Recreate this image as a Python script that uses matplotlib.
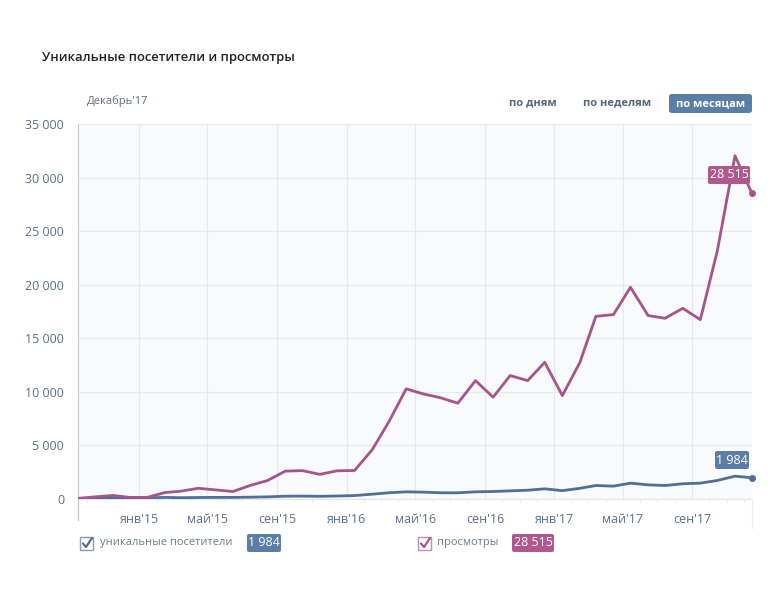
import matplotlib
matplotlib.use("Agg")
import matplotlib.pyplot as plt
import matplotlib.dates as mdates
from matplotlib.patches import FancyBboxPatch, Rectangle
from matplotlib.lines import Line2D
import datetime as dt

plt.rcParams['font.family'] = ['Open Sans', 'DejaVu Sans']

# ---- data (monthly, Sep 2014 .. Dec 2017) ----
start_year, start_month = 2014, 9
views = [60, 200, 330, 150, 150, 600, 730, 1000, 850, 700,
         1260, 1730, 2600, 2650, 2300, 2630, 2660, 4590, 7160, 10280,
         9810, 9440, 8940, 11050, 9500, 11520, 11050, 12760, 9650, 12760,
         17050, 17210, 19760, 17120, 16870, 17800, 16740, 23180, 32040, 28515]
visitors = [30, 60, 80, 90, 110, 150, 120, 140, 150, 150,
            170, 200, 260, 270, 250, 280, 320, 450, 580, 670,
            640, 580, 580, 670, 700, 760, 820, 950, 780, 1000,
            1260, 1200, 1480, 1320, 1260, 1420, 1480, 1730, 2130, 1984]
tick_months = ["янв", "май", "сен"]
y_ticks = [0, 5000, 10000, 15000, 20000, 25000, 30000, 35000]

title = "Уникальные посетители и просмотры"
period = "Декабрь'17"
buttons = ["по дням", "по неделям", "по месяцам"]
legend_names = ["уникальные посетители", "просмотры"]

dates = []
y, m = start_year, start_month
for _ in views:
    dates.append(dt.date(y, m, 15))
    m += 1
    if m > 12:
        m = 1
        y += 1

C_VIEWS = "#a5558b"
C_VIEWS_BOX = "#b0588e"
C_VIS = "#4f6f96"
C_VIS_BOX = "#5b7ea6"
C_TXT = "#5d6f84"
C_GRID = "#e6e8ec"

W, H = 775, 599
fig = plt.figure(figsize=(W / 100, H / 100), dpi=100)

def fx(px):
    return px / W

def fy(py):
    return 1 - py / H

ax = fig.add_axes([fx(78), fy(499), fx(752) - fx(78), fy(124) - fy(499)])
ax.set_facecolor("#f9fafb")

ax.plot(dates, visitors, color=C_VIS, lw=2, solid_joinstyle="round", zorder=3)
ax.plot(dates, views, color=C_VIEWS, lw=2, solid_joinstyle="round", zorder=4)
ax.plot([dates[-1]], [visitors[-1]], "o", color=C_VIS, ms=4, zorder=5, clip_on=False)
ax.plot([dates[-1]], [views[-1]], "o", color=C_VIEWS, ms=4, zorder=5, clip_on=False)

ax.set_xlim(dates[0], dates[-1])
ax.set_ylim(0, 35000)

# ticks
ax.set_yticks(y_ticks)
ax.set_yticklabels([f"{v:,}".replace(",", " ") for v in y_ticks])
xt, xl = [], []
for yr in (2015, 2016, 2017):
    for mi, name in zip((1, 5, 9), tick_months):
        xt.append(dt.date(yr, mi, 1))
        xl.append(f"{name}'{str(yr)[2:]}")
ax.set_xticks([mdates.date2num(d) for d in xt])
ax.set_xticklabels(xl)
ax.xaxis.set_minor_locator(mdates.MonthLocator())
ax.tick_params(axis="x", which="major", length=0, pad=10, labelsize=9, labelcolor=C_TXT)
ax.tick_params(axis="x", which="minor", length=2.5, color="#e0e2e6", direction="out")
ax.tick_params(axis="y", which="major", length=0, pad=10, labelsize=9, labelcolor=C_TXT)

ax.grid(True, which="major", color=C_GRID, lw=0.9)
ax.set_axisbelow(True)
for s in ("top", "right"):
    ax.spines[s].set_visible(False)
ax.spines["bottom"].set_color("#e2e4e8")
ax.spines["left"].set_color("#c3c7cc")

# extensions below the plot
fig.add_artist(Line2D([fx(78), fx(78)], [fy(499), fy(520)], color="#c3c7cc", lw=0.9))
fig.add_artist(Line2D([fx(752), fx(752)], [fy(499), fy(528)], color="#eceef1", lw=0.9))

# end value labels
def badge(cx, cy, text, color, w, h=18, fs=9):
    fig.add_artist(FancyBboxPatch((fx(cx - w / 2), fy(cy + h / 2)), fx(w), h / H,
                                  boxstyle="round,pad=0,rounding_size=0.003",
                                  fc=color, ec="none"))
    fig.text(fx(cx), fy(cy), text, color="white", fontsize=fs, ha="center", va="center")

badge(729, 175, "28 515", C_VIEWS_BOX, 42)
badge(732, 460, "1 984", C_VIS_BOX, 34)

# title and header
fig.text(fx(42), fy(57), title, fontsize=9.4, fontweight="semibold", color="#222222",
         ha="left", va="center")
fig.text(fx(87), fy(101), period, fontsize=8, color=C_TXT, ha="left", va="center")

fig.text(fx(533), fy(103), buttons[0], fontsize=8, fontweight="bold", color="#55677d",
         ha="center", va="center")
fig.text(fx(617), fy(103), buttons[1], fontsize=8, fontweight="bold", color="#55677d",
         ha="center", va="center")
fig.add_artist(FancyBboxPatch((fx(669), fy(113)), fx(83), 19 / H,
                              boxstyle="round,pad=0,rounding_size=0.004",
                              fc=C_VIS_BOX, ec="none"))
fig.text(fx(710.5), fy(103.5), buttons[2], fontsize=8, fontweight="bold", color="white",
         ha="center", va="center")

# legend
def checkbox(x0, y0, border, check):
    fig.add_artist(Rectangle((fx(x0), fy(y0 + 13)), fx(13), 13 / H, fc="white",
                             ec=border, lw=1.0))
    fig.add_artist(Line2D([fx(x0 + 3), fx(x0 + 6), fx(x0 + 12)],
                          [fy(y0 + 6.5), fy(y0 + 10), fy(y0 + 1)],
                          color=check, lw=1.6, solid_capstyle="round"))

checkbox(80, 537, "#8d9aab", C_VIS)
fig.text(fx(100), fy(543), legend_names[0], fontsize=8, color="#6d7b8c", ha="left", va="center")
badge(264, 543, "1 984", C_VIS_BOX, 34)

checkbox(418, 537, "#c38db0", C_VIEWS)
fig.text(fx(437), fy(543), legend_names[1], fontsize=8, color="#6d7b8c", ha="left", va="center")
badge(533, 543, "28 515", C_VIEWS_BOX, 42)

fig.savefig("out.png", dpi=100, facecolor="white")
